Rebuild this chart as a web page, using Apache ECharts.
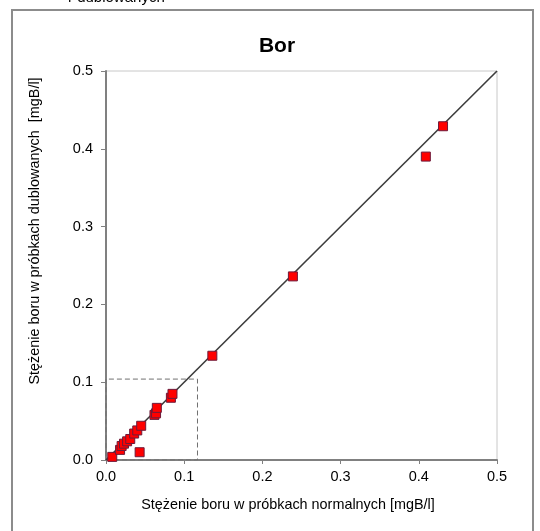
<!DOCTYPE html>
<html>
<head>
<meta charset="utf-8">
<script src="https://cdn.jsdelivr.net/npm/echarts@6/dist/echarts.min.js"></script>
<style>
  html, body { margin: 0; padding: 0; background: #fff; }
  #chart { width: 540px; height: 531px; }
</style>
</head>
<body>
<div id="chart"></div>
<script>
// stężenie boru: próbki normalne (x) vs dublowane (y), mgB/l
const normalne = [0.008, 0.018, 0.020, 0.023, 0.027, 0.031, 0.036, 0.040, 0.045, 0.043,
  0.062, 0.064, 0.065, 0.083, 0.085, 0.136, 0.239, 0.409, 0.431]
const dublowane = [0.004, 0.013, 0.018, 0.021, 0.024, 0.027, 0.034, 0.038, 0.044, 0.010,
  0.058, 0.060, 0.067, 0.080, 0.085, 0.134, 0.236, 0.390, 0.429]
const lineX = [0, 0.5]
const lineY = [0, 0.5]
// dashed zoom box
const boxX = [0, 0.117, 0.117, 0, 0]
const boxY = [0, 0, 0.104, 0.104, 0]

const font = 'Liberation Sans, Arial, sans-serif'
const chart = echarts.init(document.getElementById('chart'))

const pairs = (xs, ys) => xs.map((x, i) => [x, ys[i]])

chart.setOption({
  animation: false,
  backgroundColor: '#fff',
  title: {
    text: 'Bor',
    left: 272,
    top: 31,
    textAlign: 'center',
    textStyle: { fontFamily: font, fontSize: 21, fontWeight: 'bold', color: '#000' },
  },
  graphic: [
    {
      type: 'rect',
      shape: { x: 12, y: 10, width: 521, height: 540 },
      style: { fill: 'none', stroke: '#8c8c8c', lineWidth: 2 },
      z: -1,
    },
    {
      type: 'text',
      left: 68,
      top: -10,
      style: { text: 'r dublowanych', font: '15px ' + font, fill: '#000' },
    },
    {
      type: 'text',
      x: 288,
      y: 505,
      style: {
        text: 'Stężenie boru w próbkach normalnych [mgB/l]',
        font: '14.4px ' + font, fill: '#000', align: 'center', verticalAlign: 'middle',
      },
    },
    {
      type: 'text',
      x: 35,
      y: 231,
      rotation: Math.PI / 2,
      style: {
        text: 'Stężenie boru w próbkach dublowanych  [mgB/l]',
        font: '14.4px ' + font, fill: '#000', align: 'center', verticalAlign: 'middle',
      },
    },
  ],
  grid: {
    left: 106,
    top: 71,
    width: 391,
    height: 389,
    show: true,
    borderColor: '#c8c8c8',
    borderWidth: 1,
  },
  xAxis: {
    type: 'value',
    min: 0,
    max: 0.5,
    interval: 0.1,
    axisLine: { lineStyle: { color: '#808080', width: 2 } },
    axisTick: { length: 4, lineStyle: { color: '#808080' } },
    axisLabel: {
      margin: 9,
      fontFamily: font, fontSize: 14.5, color: '#000',
      formatter: v => v.toFixed(1),
    },
    splitLine: { show: false },
  },
  yAxis: {
    type: 'value',
    min: 0,
    max: 0.5,
    interval: 0.1,
    axisLine: { lineStyle: { color: '#808080', width: 2 } },
    axisTick: { length: 5, lineStyle: { color: '#808080' } },
    axisLabel: {
      margin: 13,
      fontFamily: font, fontSize: 14.5, color: '#000',
      formatter: v => v.toFixed(1),
    },
    splitLine: { show: false },
  },
  series: [
    {
      type: 'line',
      data: pairs(lineX, lineY),
      symbol: 'none',
      lineStyle: { color: '#3c3c3c', width: 1.6 },
      z: 2,
    },
    {
      type: 'line',
      data: pairs(boxX, boxY),
      symbol: 'none',
      lineStyle: { color: '#707070', width: 1, type: [5, 3] },
      z: 1,
    },
    {
      type: 'scatter',
      data: pairs(normalne, dublowane),
      symbol: 'rect',
      symbolSize: 9,
      itemStyle: { color: '#ff0000', borderColor: '#6e1a3a', borderWidth: 1, opacity: 1 },
      z: 3,
    },
  ],
})
</script>
</body>
</html>
